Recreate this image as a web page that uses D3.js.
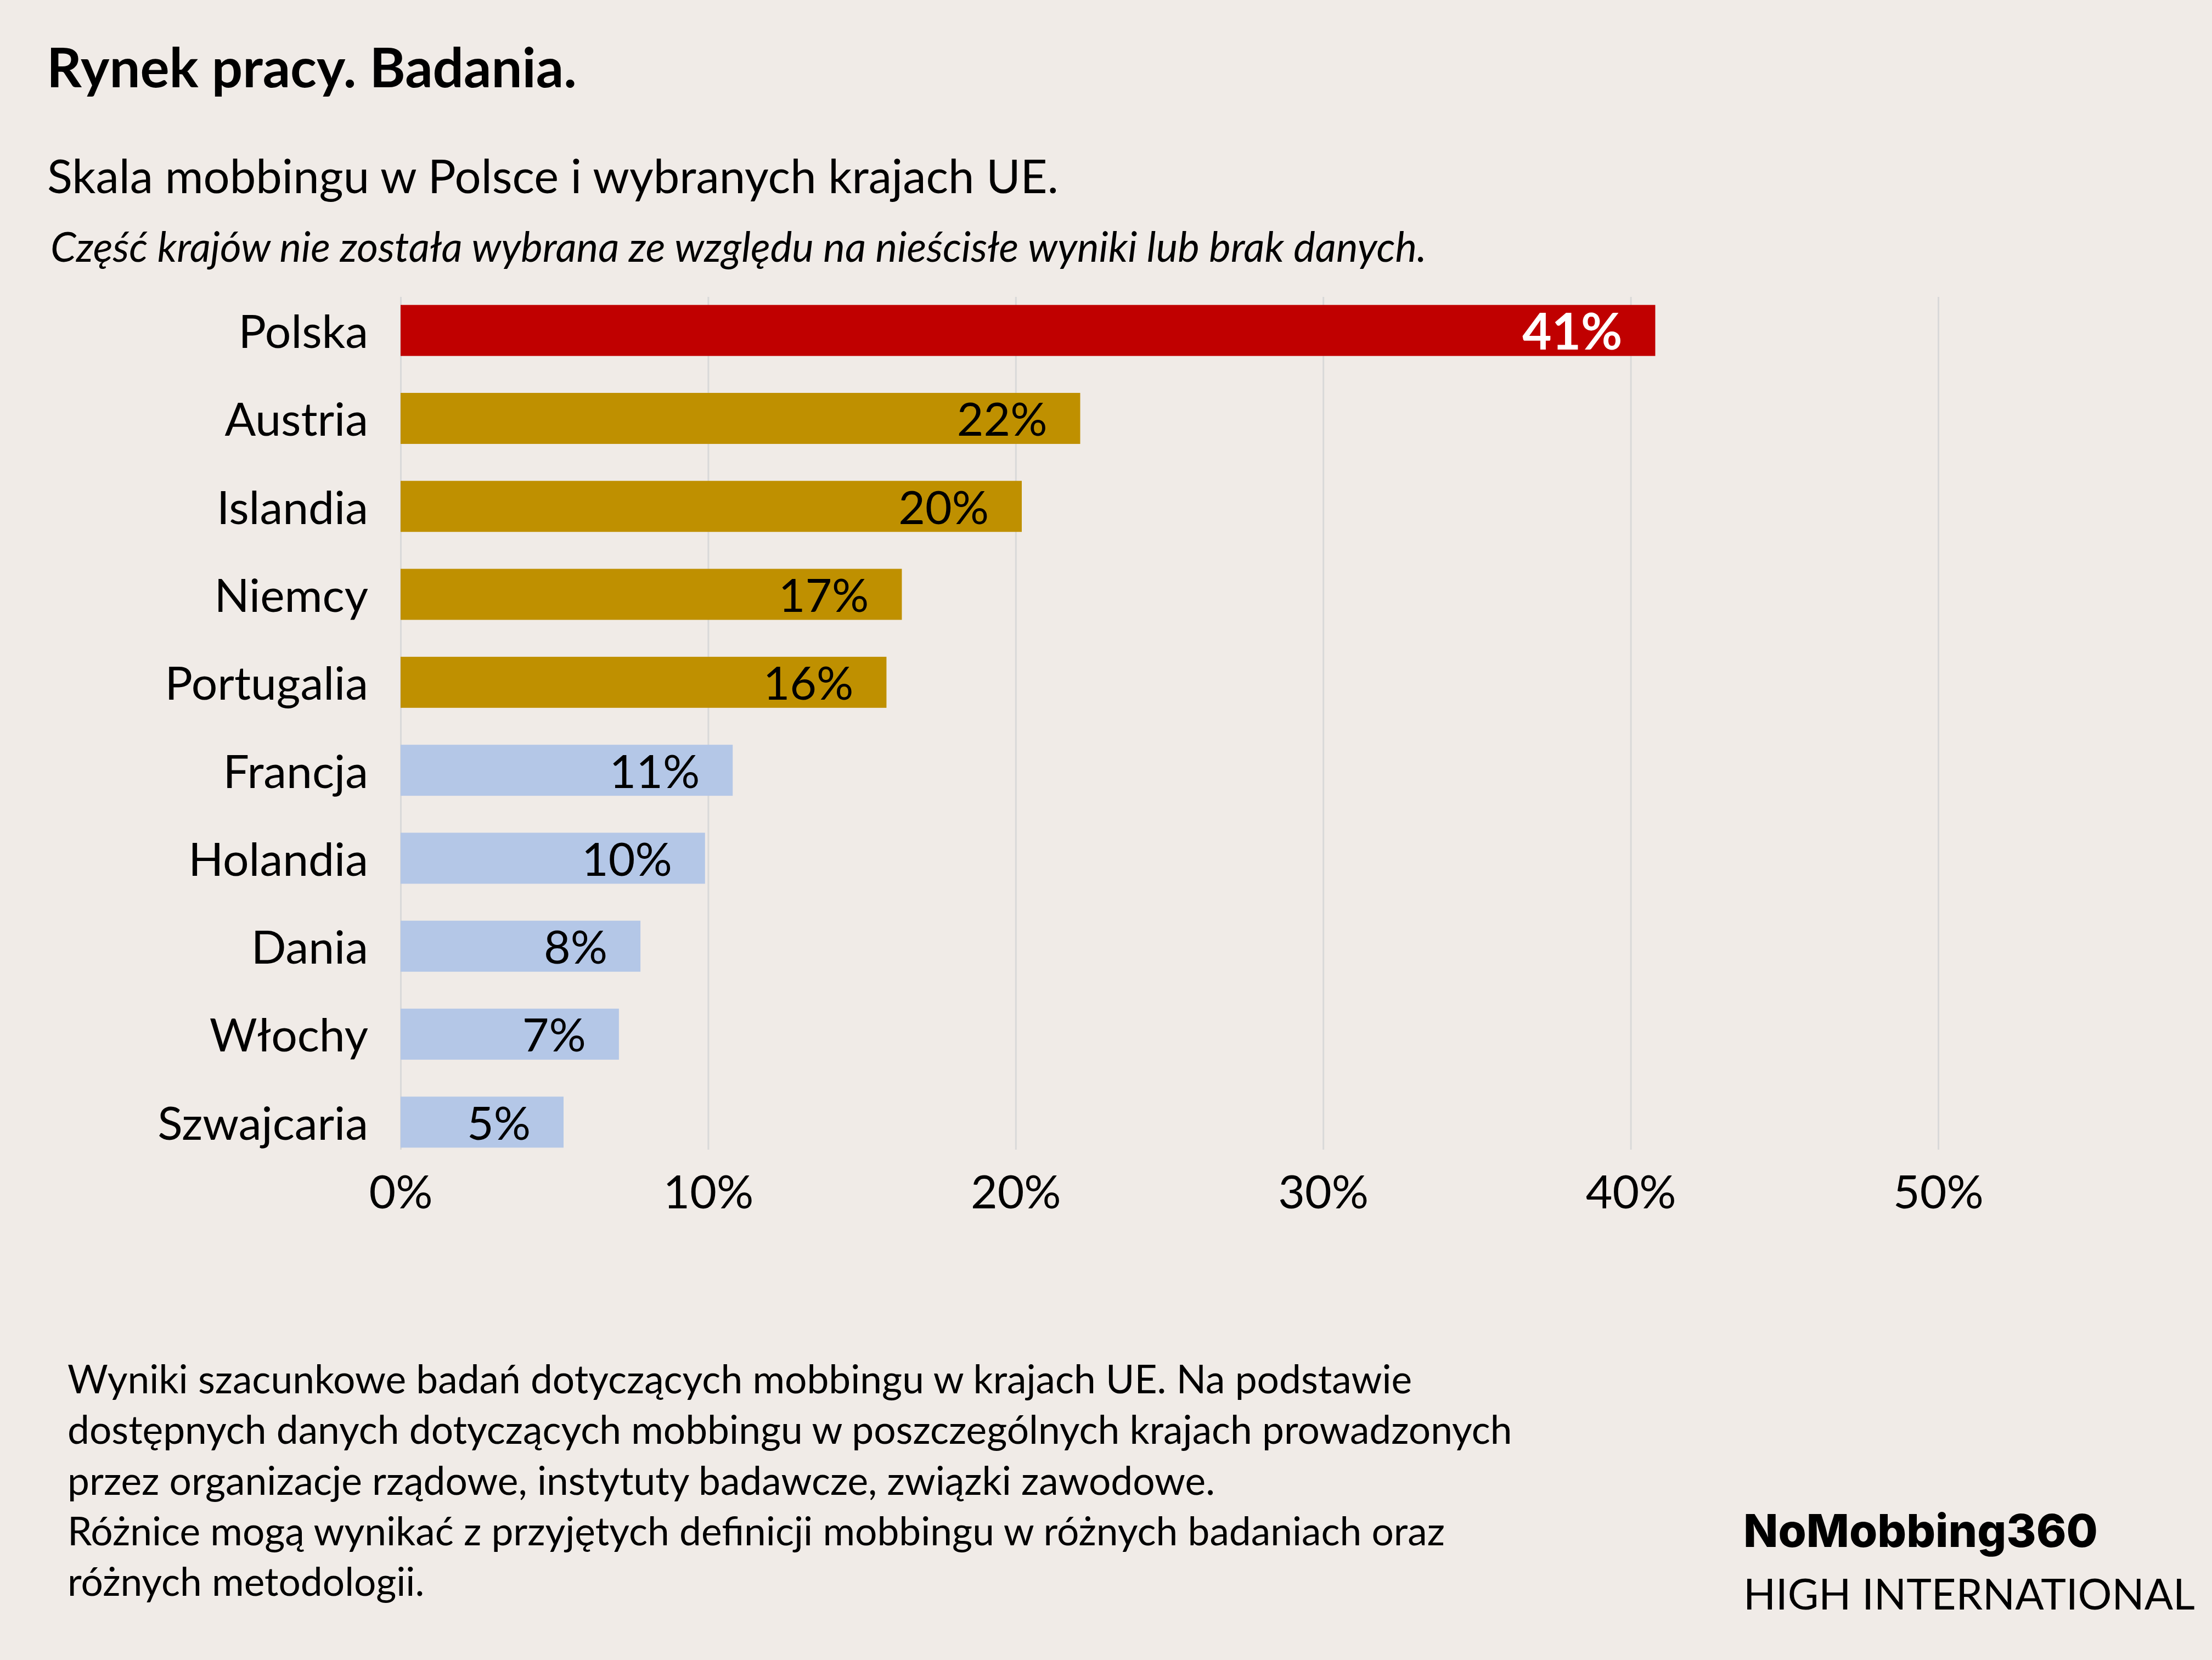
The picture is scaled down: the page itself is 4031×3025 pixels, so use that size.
<!DOCTYPE html>
<html>
<head>
<meta charset="utf-8">
<script src="https://cdn.jsdelivr.net/npm/d3@7"></script>
<style>
  body { margin: 0; background: #f0ebe7; }
  svg { display: block; }
  text { font-family: Lato, "Open Sans", sans-serif; fill: #000; }
</style>
</head>
<body>
<svg width="4031" height="3025"></svg>
<script>
// data
const countries = ['Polska', 'Austria', 'Islandia', 'Niemcy', 'Portugalia', 'Francja', 'Holandia', 'Dania', 'Włochy', 'Szwajcaria'];
const values = [40.8, 22.1, 20.2, 16.3, 15.8, 10.8, 9.9, 7.8, 7.1, 5.3];
const valueLabels = ['41%', '22%', '20%', '17%', '16%', '11%', '10%', '8%', '7%', '5%'];
const groups = ['pl', 'high', 'high', 'high', 'high', 'low', 'low', 'low', 'low', 'low'];
const xTicks = [0, 10, 20, 30, 40, 50];

const title = 'Rynek pracy. Badania.';
const subtitle = 'Skala mobbingu w Polsce i wybranych krajach UE.';
const note = 'Część krajów nie została wybrana ze względu na nieścisłe wyniki lub brak danych.';
const footer = [
  'Wyniki szacunkowe badań dotyczących mobbingu w krajach UE. Na podstawie',
  'dostępnych danych dotyczących mobbingu w poszczególnych krajach prowadzonych',
  'przez organizacje rządowe, instytuty badawcze, związki zawodowe.',
  'Różnice mogą wynikać z przyjętych definicji mobbingu w różnych badaniach oraz',
  'różnych metodologii.'
];
const brand = 'NoMobbing360';
const brandSub = 'HIGH INTERNATIONAL';

let svg = d3.select('svg');
let width = +svg.attr('width');
let height = +svg.attr('height');

let data = countries.map((c, i) => ({country: c, value: values[i], label: valueLabels[i], group: groups[i]}));

// shrink/grow a text so it spans a given width
let fitWidth = (sel, w) => {
    let fs = parseFloat(sel.attr('font-size'));
    let len = sel.node().getComputedTextLength();
    sel.attr('font-size', fs * w / len);
    return fs * w / len;
};

let xScale = d3.scaleLinear().domain([0, 50]).range([730, 3532]);
let yScale = d3.scaleBand()
    .domain(countries)
    .range([522, 2125])
    .paddingInner(0.42)
    .paddingOuter(0.21);

let color = d3.scaleOrdinal()
    .domain(['pl', 'high', 'low'])
    .range(['#c00000', '#bf9000', '#b4c7e7']);

// titles
let t1 = svg.append('text').attr('x', 85).attr('y', 159)
    .attr('font-size', 90).attr('font-weight', 700).text(title);
fitWidth(t1, 966);

let t2 = svg.append('text').attr('x', 86).attr('y', 352)
    .attr('font-size', 80).text(subtitle);
fitWidth(t2, 1843);

let t3 = svg.append('text').attr('x', 92).attr('y', 477)
    .attr('font-size', 66).attr('font-style', 'italic').text(note);
fitWidth(t3, 2508);

// grid
let gridTop = 541, gridBottom = 2095;
svg.append('g')
    .attr('transform', `translate(0,${gridBottom})`)
    .call(d3.axisBottom(xScale).tickValues(xTicks).tickSize(-(gridBottom - gridTop)).tickFormat(''))
    .call(g => g.select('.domain').remove())
    .call(g => g.selectAll('line').attr('stroke', '#d9d9d9').attr('stroke-width', 3));

// x tick labels
svg.append('g')
    .attr('transform', 'translate(0,2202)')
    .call(d3.axisBottom(xScale).tickValues(xTicks).tickSize(0).tickFormat(d => d + '%'))
    .call(g => g.select('.domain').remove())
    .call(g => g.selectAll('text')
        .attr('y', 0).attr('dy', 0)
        .attr('font-size', 84)
        .attr('font-family', 'Lato, "Open Sans", sans-serif')
        .attr('fill', '#000'));

// bars
svg.selectAll('rect.bar').data(data)
    .enter().append('rect')
    .attr('class', 'bar')
    .attr('x', xScale(0))
    .attr('y', d => yScale(d.country))
    .attr('width', d => xScale(d.value) - xScale(0))
    .attr('height', yScale.bandwidth())
    .attr('fill', d => color(d.group));

// country labels
svg.append('g')
    .attr('transform', 'translate(671,0)')
    .call(d3.axisLeft(yScale).tickSize(0).tickPadding(0))
    .call(g => g.select('.domain').remove())
    .call(g => g.selectAll('text')
        .attr('dy', '0.38em')
        .attr('font-size', 84)
        .attr('font-family', 'Lato, "Open Sans", sans-serif')
        .attr('fill', '#000'));

// value labels
svg.selectAll('text.val').data(data)
    .enter().append('text')
    .attr('class', 'val')
    .attr('x', d => xScale(d.value) - 60)
    .attr('y', d => yScale(d.country) + yScale.bandwidth() / 2)
    .attr('dy', '0.38em')
    .attr('text-anchor', 'end')
    .attr('font-size', d => d.group === 'pl' ? 92 : 84)
    .attr('font-weight', d => d.group === 'pl' ? 700 : 400)
    .style('fill', d => d.group === 'pl' ? '#fff' : '#000')
    .text(d => d.label);

// footer note
let foot = svg.append('g');
let lines = foot.selectAll('text').data(footer)
    .enter().append('text')
    .attr('x', 123)
    .attr('y', (d, i) => 2539 + i * 92.3)
    .attr('font-size', 70)
    .text(d => d);
let fs = fitWidth(d3.select(lines.nodes()[1]), 2633);
lines.attr('font-size', fs);

// brand
let b1 = svg.append('text').attr('x', 3177).attr('y', 2819)
    .attr('font-size', 80).attr('font-weight', 800)
    .style('font-family', 'Inter, Roboto, sans-serif')
    .text(brand);
fitWidth(b1, 646);

let b2 = svg.append('text').attr('x', 3177).attr('y', 2933)
    .attr('font-size', 80).text(brandSub);
fitWidth(b2, 823);
</script>
</body>
</html>
